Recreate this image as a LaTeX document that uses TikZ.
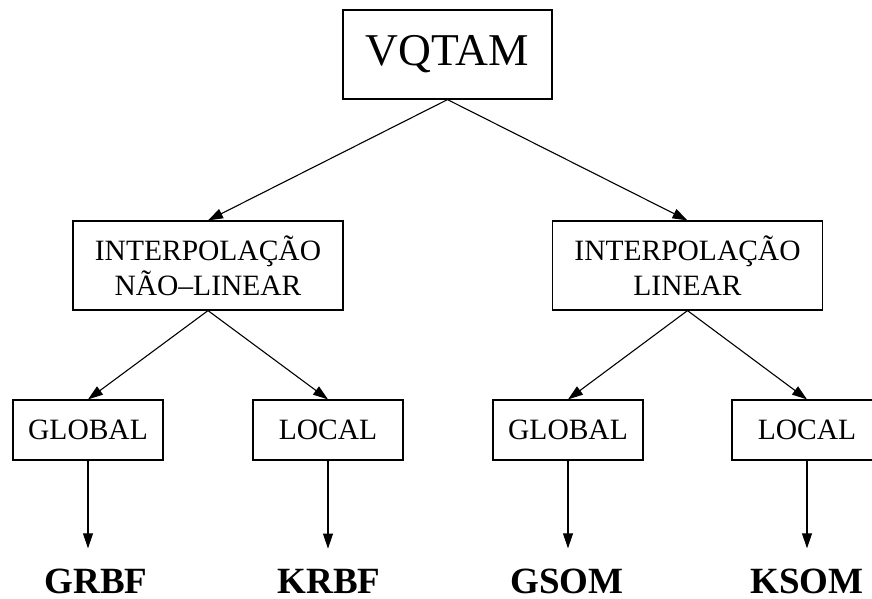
\documentclass[tikz,border=0pt]{standalone}
\usepackage{fontspec}
\setmainfont{Liberation Serif}
\usetikzlibrary{positioning,arrows.meta}

\begin{document}
\begin{tikzpicture}[
    x=1pt, y=-1pt,
    box/.style={rectangle, draw=black, line width=1.2pt, align=center, inner sep=0pt,
        font=\fontsize{29.5}{35}\selectfont},
    topbox/.style={box, minimum width=209pt, minimum height=89pt, font=\fontsize{45.5}{54}\selectfont},
    midbox/.style={box, minimum width=270pt, minimum height=89pt},
    leafbox/.style={box, minimum width=150pt, minimum height=60pt},
    result/.style={inner sep=0pt, anchor=base, font=\fontsize{37}{44}\selectfont\bfseries},
    arrow/.style={-{Triangle[length=15pt, width=10pt]}, line width=1.1pt}
]
    \useasboundingbox (0,0) rectangle (872,599);

    \node[topbox] (vqtam) at (447.5,54.5) {VQTAM};
    \node[midbox] (nlin) at (208,265.5) {INTERPOLAÇÃO\\NÃO--LINEAR};
    \node[midbox] (lin) at (687.5,265.5) {INTERPOLAÇÃO\\LINEAR};

    \node[leafbox] (nglob) at (88,430) {GLOBAL};
    \node[leafbox] (nloc) at (328,430) {LOCAL};
    \node[leafbox] (lglob) at (568,430) {GLOBAL};
    \node[leafbox] (lloc) at (807,430) {LOCAL};

    \node[result] (grbf) at (96,593) {GRBF};
    \node[result] (krbf) at (329,593) {KRBF};
    \node[result] (gsom) at (567,593) {GSOM};
    \node[result] (ksom) at (807,593) {KSOM};

    \draw[arrow] (vqtam.south) -- (nlin.north);
    \draw[arrow] (vqtam.south) -- (lin.north);
    \draw[arrow] (nlin.south) -- (nglob.north);
    \draw[arrow] (nlin.south) -- (nloc.north);
    \draw[arrow] (lin.south) -- (lglob.north);
    \draw[arrow] (lin.south) -- (lloc.north);

    \draw[arrow, shorten >=20pt] (nglob.south) -- (nglob.south |- grbf.north);
    \draw[arrow, shorten >=20pt] (nloc.south) -- (nloc.south |- krbf.north);
    \draw[arrow, shorten >=20pt] (lglob.south) -- (lglob.south |- gsom.north);
    \draw[arrow, shorten >=20pt] (lloc.south) -- (lloc.south |- ksom.north);
\end{tikzpicture}
\end{document}
